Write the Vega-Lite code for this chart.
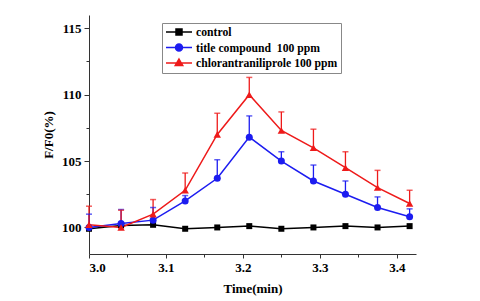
{
  "$schema": "https://vega.github.io/schema/vega-lite/v6.json",
  "width": 327,
  "height": 239,
  "autosize": {"type": "none"},
  "padding": {"left": 89, "top": 15, "right": 64, "bottom": 47},
  "background": "white",
  "config": {
    "view": {"stroke": null},
    "font": "Times New Roman",
    "axis": {
      "labelFont": "Times New Roman", "labelFontWeight": "bold", "labelFontSize": 13, "labelColor": "#000",
      "titleFont": "Times New Roman", "titleFontWeight": "bold", "titleFontSize": 13, "titleColor": "#000",
      "domainColor": "#333", "tickColor": "#333", "domainWidth": 1, "tickWidth": 1, "grid": false
    }
  },
  "data": {
    "values": [
      {"time": 3.0, "series": "control", "value": 99.9, "upper": null},
      {"time": 3.0417, "series": "control", "value": 100.15, "upper": null},
      {"time": 3.0833, "series": "control", "value": 100.2, "upper": null},
      {"time": 3.125, "series": "control", "value": 99.9, "upper": null},
      {"time": 3.1667, "series": "control", "value": 100.0, "upper": null},
      {"time": 3.2083, "series": "control", "value": 100.1, "upper": null},
      {"time": 3.25, "series": "control", "value": 99.9, "upper": null},
      {"time": 3.2917, "series": "control", "value": 100.0, "upper": null},
      {"time": 3.3333, "series": "control", "value": 100.1, "upper": null},
      {"time": 3.375, "series": "control", "value": 100.0, "upper": null},
      {"time": 3.4167, "series": "control", "value": 100.1, "upper": null},
      {"time": 3.0, "series": "title compound  100 ppm", "value": 100.0, "upper": 101.0},
      {"time": 3.0417, "series": "title compound  100 ppm", "value": 100.3, "upper": 101.35},
      {"time": 3.0833, "series": "title compound  100 ppm", "value": 100.55, "upper": 101.5},
      {"time": 3.125, "series": "title compound  100 ppm", "value": 102.0, "upper": 102.4},
      {"time": 3.1667, "series": "title compound  100 ppm", "value": 103.7, "upper": 105.1},
      {"time": 3.2083, "series": "title compound  100 ppm", "value": 106.8, "upper": 108.4},
      {"time": 3.25, "series": "title compound  100 ppm", "value": 105.0, "upper": 105.7},
      {"time": 3.2917, "series": "title compound  100 ppm", "value": 103.5, "upper": 104.7},
      {"time": 3.3333, "series": "title compound  100 ppm", "value": 102.5, "upper": 103.5},
      {"time": 3.375, "series": "title compound  100 ppm", "value": 101.5, "upper": 102.3},
      {"time": 3.4167, "series": "title compound  100 ppm", "value": 100.8, "upper": 101.4},
      {"time": 3.0, "series": "chlorantraniliprole 100 ppm", "value": 100.2, "upper": 101.6},
      {"time": 3.0417, "series": "chlorantraniliprole 100 ppm", "value": 100.0, "upper": 101.3},
      {"time": 3.0833, "series": "chlorantraniliprole 100 ppm", "value": 101.0, "upper": 102.1},
      {"time": 3.125, "series": "chlorantraniliprole 100 ppm", "value": 102.8, "upper": 104.1},
      {"time": 3.1667, "series": "chlorantraniliprole 100 ppm", "value": 107.0, "upper": 108.6},
      {"time": 3.2083, "series": "chlorantraniliprole 100 ppm", "value": 110.0, "upper": 111.3},
      {"time": 3.25, "series": "chlorantraniliprole 100 ppm", "value": 107.3, "upper": 108.7},
      {"time": 3.2917, "series": "chlorantraniliprole 100 ppm", "value": 106.0, "upper": 107.4},
      {"time": 3.3333, "series": "chlorantraniliprole 100 ppm", "value": 104.5, "upper": 105.7},
      {"time": 3.375, "series": "chlorantraniliprole 100 ppm", "value": 103.0, "upper": 104.3},
      {"time": 3.4167, "series": "chlorantraniliprole 100 ppm", "value": 101.8, "upper": 102.8}
    ]
  },
  "encoding": {
    "x": {"field": "time", "type": "quantitative", "scale": {"domain": [3.0, 3.425], "nice": false, "zero": false}},
    "color": {
      "field": "series", "type": "nominal",
      "scale": {"domain": ["control", "title compound  100 ppm", "chlorantraniliprole 100 ppm"], "range": ["#000000", "#1c1cf0", "#ee1a1a"]},
      "legend": {
        "orient": "none", "legendX": 73, "legendY": 8, "title": null, "symbolType": "square",
        "padding": 3, "strokeColor": "#888", "fillColor": "white",
        "labelFont": "Times New Roman", "labelFontWeight": "bold", "labelFontSize": 11.7, "labelColor": "#000",
        "labelExpr": "replace(datum.label, '  ', ' \u00a0')",
        "symbolSize": 100, "symbolOffset": 8, "labelOffset": 11, "rowPadding": 1.5,
        "symbolStrokeWidth": 1.5, "symbolOpacity": 1,
        "encode": {
          "symbols": {
            "update": {
              "shape": {"signal": "datum.value === 'control' ? 'M-2.6,0H2.6M-0.6,-0.6H0.6V0.6H-0.6Z' : (datum.value === 'chlorantraniliprole 100 ppm' ? 'M-2.6,0H2.6M0,-0.8L0.75,0.5H-0.75Z' : 'M-2.6,0H2.6M-0.7,0A0.7,0.7 0 1,0 0.7,0A0.7,0.7 0 1,0 -0.7,0Z')"},
              "stroke": {"signal": "scale('color', datum.value)"},
              "fill": {"signal": "scale('color', datum.value)"},
              "strokeWidth": {"value": 1.5},
              "opacity": {"value": 1}
            }
          }
        }
      }
    }
  },
  "layer": [
    {
      "transform": [{"filter": "datum.upper != null"}],
      "mark": {"type": "rule", "strokeWidth": 1.3},
      "encoding": {
        "x": {"field": "time", "type": "quantitative", "axis": {"values": [3.0, 3.1, 3.2, 3.3, 3.4], "format": ".1f", "tickSize": 4, "labelPadding": 3, "title": "Time(min)", "titlePadding": 8}},
        "y": {"field": "value", "type": "quantitative", "scale": {"domain": [98, 116], "nice": false, "zero": false}, "axis": {"values": [100, 105, 110, 115], "tickSize": 5, "labelPadding": 3, "title": "F/F0(%)", "titlePadding": 6}},
        "y2": {"field": "upper"}
      }
    },
    {
      "transform": [{"filter": "datum.upper != null"}],
      "mark": {"type": "tick", "orient": "horizontal", "size": 6, "thickness": 1.5},
      "encoding": {
        "x": {"field": "time", "type": "quantitative", "axis": null},
        "y": {"field": "upper", "type": "quantitative", "axis": null}
      }
    },
    {
      "mark": {"type": "line", "strokeWidth": 1.5},
      "encoding": {
        "x": {"field": "time", "type": "quantitative", "axis": null},
        "y": {"field": "value", "type": "quantitative", "axis": null}
      }
    },
    {
      "transform": [{"filter": "datum.series === 'control'"}],
      "mark": {"type": "point", "filled": true, "opacity": 1, "shape": "square", "size": 36},
      "encoding": {
        "x": {"field": "time", "type": "quantitative", "axis": null},
        "y": {"field": "value", "type": "quantitative", "axis": null}
      }
    },
    {
      "transform": [{"filter": "datum.series === 'title compound  100 ppm'"}],
      "mark": {"type": "point", "filled": true, "opacity": 1, "shape": "circle", "size": 49},
      "encoding": {
        "x": {"field": "time", "type": "quantitative", "axis": null},
        "y": {"field": "value", "type": "quantitative", "axis": null}
      }
    },
    {
      "transform": [{"filter": "datum.series === 'chlorantraniliprole 100 ppm'"}],
      "mark": {"type": "point", "filled": true, "opacity": 1, "shape": "triangle-up", "size": 55},
      "encoding": {
        "x": {"field": "time", "type": "quantitative", "axis": null},
        "y": {"field": "value", "type": "quantitative", "axis": null}
      }
    },
    {
      "mark": {"type": "point", "opacity": 0},
      "encoding": {
        "x": {"field": "time", "type": "quantitative", "axis": {"orient": "bottom", "values": [3.05, 3.15, 3.25, 3.35], "labels": false, "domain": false, "tickSize": 3, "title": null}},
        "y": {"field": "value", "type": "quantitative", "axis": {"orient": "left", "values": [102.5, 107.5, 112.5], "labels": false, "domain": false, "tickSize": 3, "title": null}},
        "color": {"value": "transparent"}
      }
    }
  ],
  "resolve": {"axis": {"x": "independent", "y": "independent"}}
}
